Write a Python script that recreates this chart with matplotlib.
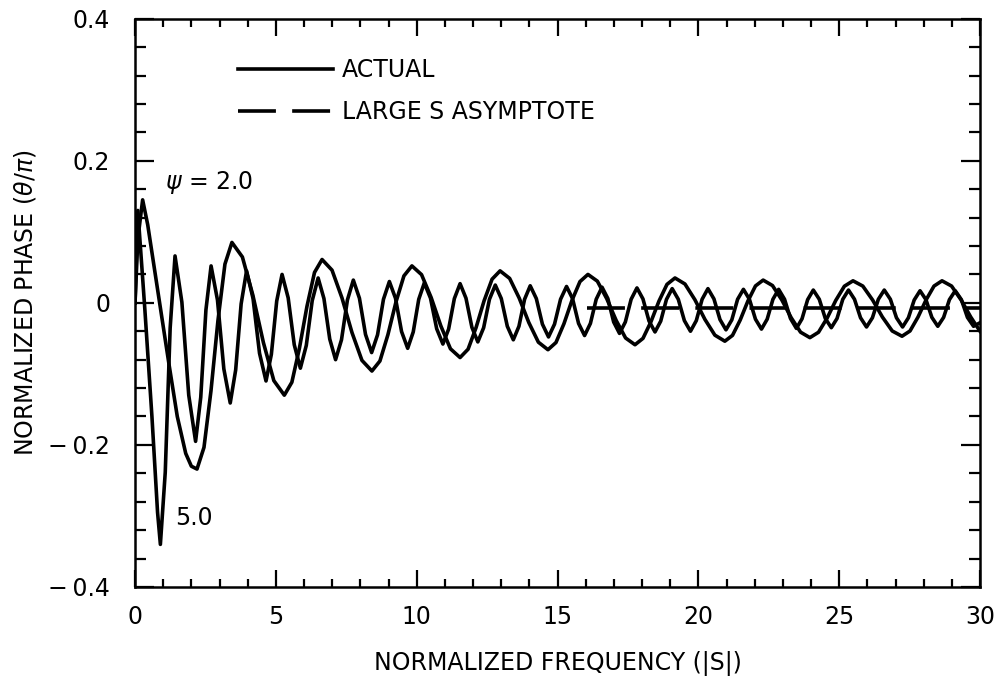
#!/usr/bin/env python3

import matplotlib
matplotlib.use("Agg")
import matplotlib.pyplot as plt
from matplotlib.ticker import MultipleLocator

# psi = 2.0 curve (slow oscillation)
s_psi2 = [0.0, 0.1, 0.27, 0.45, 0.7, 0.95, 1.2, 1.5, 1.8, 2.0, 2.2,
          2.448, 2.696, 2.944, 3.192, 3.44,
          3.812, 4.184, 4.556, 4.928, 5.3,
          5.568, 5.836, 6.104, 6.372, 6.64,
          6.994, 7.348, 7.702, 8.056, 8.41,
          8.694, 8.978, 9.262, 9.546, 9.83,
          10.172, 10.514, 10.856, 11.198, 11.54,
          11.824, 12.108, 12.392, 12.676, 12.96,
          13.3, 13.64, 13.98, 14.32, 14.66,
          14.944, 15.228, 15.512, 15.796, 16.08,
          16.414, 16.748, 17.082, 17.416, 17.75,
          18.034, 18.318, 18.602, 18.886, 19.17,
          19.524, 19.878, 20.232, 20.586, 20.94,
          21.212, 21.484, 21.756, 22.028, 22.3,
          22.632, 22.964, 23.296, 23.628, 23.96,
          24.266, 24.572, 24.878, 25.184, 25.49,
          25.838, 26.186, 26.534, 26.882, 27.23,
          27.514, 27.798, 28.082, 28.366, 28.65,
          28.99, 29.33, 29.67, 30.0]
phase_psi2 = [0.0, 0.09, 0.145, 0.11, 0.045, -0.02, -0.085, -0.16, -0.212, -0.23, -0.234,
              -0.2035, -0.124, -0.025, 0.0545, 0.085,
              0.0645, 0.0107, -0.0557, -0.1095, -0.13,
              -0.1118, -0.064, -0.005, 0.0428, 0.061,
              0.046, 0.0068, -0.0418, -0.081, -0.096,
              -0.0819, -0.0449, 0.0009, 0.0379, 0.052,
              0.0397, 0.0074, -0.0324, -0.0647, -0.077,
              -0.0653, -0.0348, 0.0028, 0.0333, 0.045,
              0.0344, 0.0066, -0.0277, -0.0554, -0.066,
              -0.0559, -0.0294, 0.0034, 0.0299, 0.04,
              0.0305, 0.0058, -0.0248, -0.0495, -0.059,
              -0.05, -0.0265, 0.0025, 0.026, 0.035,
              0.0265, 0.0043, -0.0233, -0.0455, -0.054,
              -0.0458, -0.0243, 0.0023, 0.0238, 0.032,
              0.0243, 0.004, -0.021, -0.0413, -0.049,
              -0.0414, -0.0214, 0.0034, 0.0234, 0.031,
              0.0236, 0.004, -0.02, -0.0396, -0.047,
              -0.0396, -0.02, 0.004, 0.0236, 0.031,
              0.0236, 0.004, -0.02, -0.04]

# psi = 5.0 curve (fast oscillation)
s_psi5 = [0.0, 0.1, 0.35, 0.6, 0.8, 0.9,
          1.073, 1.247, 1.42, 1.663, 1.907, 2.15,
          2.333, 2.517, 2.7, 2.927, 3.153, 3.38,
          3.573, 3.767, 3.96, 4.19, 4.42, 4.65,
          4.84, 5.03, 5.22, 5.437, 5.653, 5.87,
          6.08, 6.29, 6.5, 6.707, 6.913, 7.12,
          7.33, 7.54, 7.75, 7.967, 8.183, 8.4,
          8.61, 8.82, 9.03, 9.247, 9.463, 9.68,
          9.877, 10.073, 10.27, 10.49, 10.71, 10.93,
          11.133, 11.337, 11.54, 11.75, 11.96, 12.17,
          12.377, 12.583, 12.79, 13.003, 13.217, 13.43,
          13.63, 13.83, 14.03, 14.247, 14.463, 14.68,
          14.893, 15.107, 15.32, 15.533, 15.747, 15.96,
          16.167, 16.373, 16.58, 16.787, 16.993, 17.2,
          17.407, 17.613, 17.82, 18.033, 18.247, 18.46,
          18.663, 18.867, 19.07, 19.287, 19.503, 19.72,
          19.927, 20.133, 20.34, 20.553, 20.767, 20.98,
          21.187, 21.393, 21.6, 21.813, 22.027, 22.24,
          22.443, 22.647, 22.85, 23.06, 23.27, 23.48,
          23.68, 23.88, 24.08, 24.293, 24.507, 24.72,
          24.923, 25.127, 25.33, 25.543, 25.757, 25.97,
          26.18, 26.39, 26.6, 26.817, 27.033, 27.25,
          27.457, 27.663, 27.87, 28.08, 28.29, 28.5,
          28.707, 28.913, 29.12, 29.337, 29.553, 29.77,
          30.0]
phase_psi5 = [0.0, 0.13, -0.01, -0.16, -0.295, -0.34,
              -0.2385, -0.0355, 0.066, 0.001, -0.13, -0.195,
              -0.133, -0.01, 0.052, 0.004, -0.093, -0.141,
              -0.0945, -0.0015, 0.045, 0.006, -0.071, -0.11,
              -0.0725, 0.0025, 0.04, 0.007, -0.059, -0.092,
              -0.06, 0.003, 0.035, 0.006, -0.051, -0.08,
              -0.052, 0.004, 0.032, 0.0065, -0.0445, -0.07,
              -0.045, 0.005, 0.03, 0.0065, -0.0405, -0.064,
              -0.041, 0.005, 0.028, 0.0065, -0.0365, -0.058,
              -0.037, 0.006, 0.027, 0.0065, -0.0345, -0.055,
              -0.035, 0.005, 0.025, 0.006, -0.033, -0.052,
              -0.033, 0.005, 0.024, 0.006, -0.03, -0.048,
              -0.03, 0.005, 0.023, 0.006, -0.029, -0.046,
              -0.029, 0.005, 0.022, 0.006, -0.027, -0.043,
              -0.027, 0.005, 0.021, 0.0055, -0.0255, -0.041,
              -0.0258, 0.0048, 0.02, 0.005, -0.025, -0.04,
              -0.025, 0.005, 0.02, 0.0055, -0.0235, -0.038,
              -0.024, 0.005, 0.019, 0.005, -0.023, -0.037,
              -0.023, 0.005, 0.019, 0.005, -0.022, -0.036,
              -0.0225, 0.0045, 0.018, 0.005, -0.022, -0.035,
              -0.022, 0.005, 0.018, 0.005, -0.021, -0.034,
              -0.021, 0.005, 0.018, 0.005, -0.021, -0.034,
              -0.021, 0.004, 0.017, 0.0045, -0.0205, -0.033,
              -0.0205, 0.0045, 0.017, 0.0045, -0.0205, -0.033,
              -0.028]

# large s asymptote
s_asym = [16.05, 30.0]
phase_asym = [-0.007, -0.007]

yticks = [-0.4, -0.2, 0.0, 0.2, 0.4]
ytick_labels = ["\u2212\u20090.4", "\u2212\u20090.2", "0", "0.2", "0.4"]
xticks = [0, 5, 10, 15, 20, 25, 30]

plt.rcParams['font.family'] = ['DejaVu Sans']
plt.rcParams['mathtext.fontset'] = 'dejavusans'

fig = plt.figure(figsize=(9.98, 6.79), dpi=100)
ax = fig.add_axes([0.1353, 0.1355, 0.8467, 0.837])

lw = 2.6
ax.plot(s_psi2, phase_psi2, color="black", lw=lw, solid_joinstyle="round", label="ACTUAL")
ax.plot(s_psi5, phase_psi5, color="black", lw=lw, solid_joinstyle="round")
ax.plot(s_asym, phase_asym, color="black", lw=lw, dashes=(10.5, 4.5), label="LARGE S ASYMPTOTE")

ax.set_xlim(0, 30)
ax.set_ylim(-0.4, 0.4)

ax.set_xticks(xticks, [str(v) for v in xticks])
ax.set_yticks(yticks, ytick_labels)
ax.xaxis.set_minor_locator(MultipleLocator(1))
ax.yaxis.set_minor_locator(MultipleLocator(0.04))
ax.tick_params(which="both", direction="in", top=True, right=True, width=1.6,
               labelsize=17, colors="black")
ax.tick_params(axis="x", which="major", length=12, pad=13)
ax.tick_params(axis="x", which="minor", length=6)
ax.tick_params(axis="y", which="major", length=14, pad=18)
ax.tick_params(axis="y", which="minor", length=8)
for sp in ax.spines.values():
    sp.set_linewidth(1.8)

ax.set_xlabel("NORMALIZED FREQUENCY (|S|)", fontsize=17)
ax.set_ylabel(r"NORMALIZED PHASE ($\theta/\pi$)", fontsize=17)
ax.xaxis.set_label_coords(0.5, -0.112)
ax.yaxis.set_label_coords(-0.115, 0.5)

ax.text(1.05, 0.169, r"$\psi$ = 2.0", fontsize=17, va="center", ha="left")
ax.text(1.42, -0.303, "5.0", fontsize=17, va="center", ha="left")

ax.legend(loc="upper left", bbox_to_anchor=(0.122, 0.93), frameon=False,
          fontsize=17, handlelength=4.0, handletextpad=0.4, labelspacing=0.75,
          borderpad=0, borderaxespad=0)

fig.savefig("out.png", dpi=100)
